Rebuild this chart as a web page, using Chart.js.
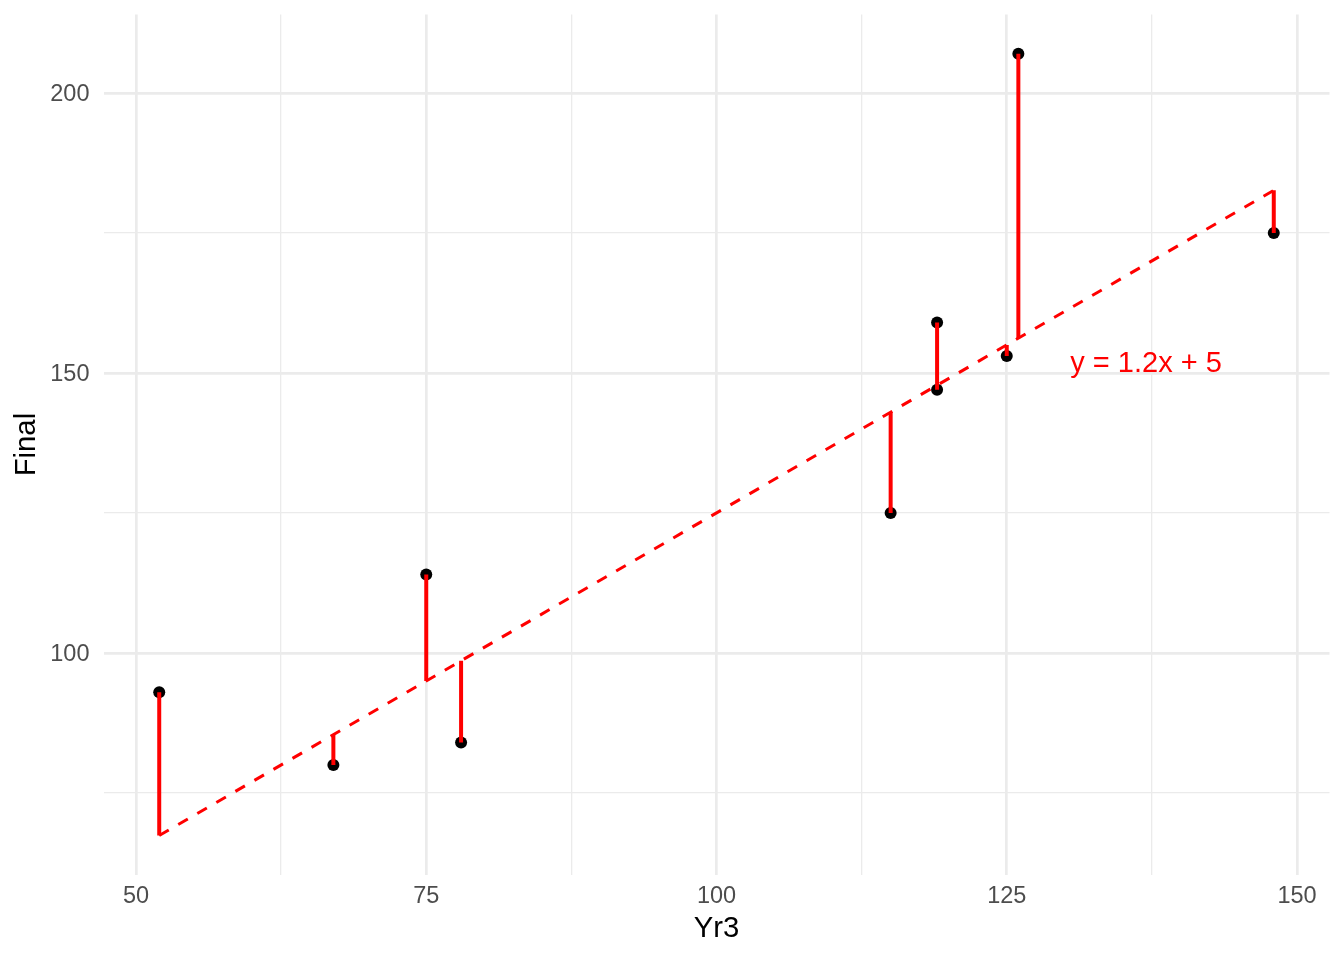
<!DOCTYPE html>
<html>
<head>
<meta charset="utf-8">
<script src="https://cdn.jsdelivr.net/npm/chart.js@4/dist/chart.umd.min.js"></script>
<style>
  html, body { margin: 0; padding: 0; background: #ffffff; }
  #wrap { width: 1344px; height: 960px; }
</style>
</head>
<body>
<div id="wrap"><canvas id="residualChart" width="1344" height="960"></canvas></div>
<script>
// data
const yr3    = [52, 67, 75, 78, 115, 119, 119, 125, 126, 148];
const final  = [93, 80, 114, 84, 125, 159, 147, 153, 207, 175];
// values on the line y = 1.2x + 5 at each Yr3
const fitted = [67.4, 85.4, 95, 98.6, 143, 147.8, 147.8, 155, 156.2, 182.6];

const xGrid = [50, 62.5, 75, 87.5, 100, 112.5, 125, 137.5, 150];
const yGrid = [75, 100, 125, 150, 175, 200];
const xTickLabels = [50, 75, 100, 125, 150];
const yTickLabels = [100, 150, 200];

const eqText = 'y = 1.2x + 5';
const eqAt = [137, 152];

const points = yr3.map((x, i) => ({x: x, y: final[i]}));
const fitLine = [
    {x: yr3[0], y: fitted[0]},
    {x: yr3[yr3.length - 1], y: fitted[fitted.length - 1]}
];
// each residual is point -> fitted value, broken by a null
const residuals = [];
yr3.forEach((x, i) => {
    residuals.push({x: x, y: final[i]});
    residuals.push({x: x, y: fitted[i]});
    residuals.push({x: x, y: null});
});

const FONT = '"Liberation Sans", Arimo, Helvetica, Arial, sans-serif';

const eqLabel = {
    id: 'eqLabel',
    afterDatasetsDraw(chart) {
        const {ctx, scales: {x, y}} = chart;
        ctx.save();
        ctx.fillStyle = '#FF0000';
        ctx.font = '29px ' + FONT;
        ctx.textAlign = 'center';
        ctx.textBaseline = 'alphabetic';
        // centre the cap height on the anchor, like ggplot does
        ctx.fillText(eqText, x.getPixelForValue(eqAt[0]), y.getPixelForValue(eqAt[1]) + 10.4);
        ctx.restore();
    }
};

function gridStyle(majors) {
    return {
        color: '#EBEBEB',
        lineWidth: (c) => majors.includes(c.tick.value) ? 2.7 : 1.3,
        drawTicks: false
    };
}

const ctx = document.getElementById('residualChart').getContext('2d');
const chart = new Chart(ctx, {
    type: 'scatter',
    data: {
        datasets: [
            {
                // residual segments, drawn on top
                data: residuals,
                showLine: true,
                spanGaps: false,
                borderColor: '#FF0000',
                borderWidth: 4,
                borderCapStyle: 'butt',
                pointRadius: 0,
                order: 0
            },
            {
                data: points,
                backgroundColor: '#000000',
                borderWidth: 0,
                pointRadius: 6,
                order: 1
            },
            {
                data: fitLine,
                showLine: true,
                borderColor: '#FF0000',
                borderWidth: 3,
                borderDash: [11, 11],
                borderCapStyle: 'butt',
                pointRadius: 0,
                order: 2
            }
        ]
    },
    options: {
        responsive: false,
        animation: false,
        layout: { padding: { top: 14.6, right: 14.5, left: 0, bottom: 0 } },
        plugins: {
            legend: { display: false },
            tooltip: { enabled: false }
        },
        scales: {
            x: {
                type: 'linear',
                min: 47.2,
                max: 152.8,
                afterBuildTicks: (s) => { s.ticks = xGrid.map(v => ({value: v})); },
                afterFit: (s) => {
                    s.height = 85.4;
                    s.paddingLeft = 0;
                    s.paddingRight = 0;
                },
                grid: gridStyle(xTickLabels),
                border: { display: false },
                ticks: {
                    autoSkip: false,
                    maxRotation: 0,
                    padding: 8,
                    color: '#4D4D4D',
                    font: { family: FONT, size: 23.5 },
                    callback: (v) => xTickLabels.includes(v) ? String(v) : ''
                },
                title: {
                    display: true,
                    text: 'Yr3',
                    color: '#000000',
                    font: { family: FONT, size: 29.3 },
                    padding: { top: 0, bottom: 13.6 }
                }
            },
            y: {
                type: 'linear',
                min: 60.42,
                max: 213.98,
                afterBuildTicks: (s) => { s.ticks = yGrid.map(v => ({value: v})); },
                afterFit: (s) => {
                    s.width = 103.5;
                    s.paddingTop = 0;
                    s.paddingBottom = 0;
                },
                grid: gridStyle(yTickLabels),
                border: { display: false },
                ticks: {
                    autoSkip: false,
                    padding: 14,
                    labelOffset: 2,
                    color: '#4D4D4D',
                    font: { family: FONT, size: 23.5 },
                    callback: (v) => yTickLabels.includes(v) ? String(v) : ''
                },
                title: {
                    display: true,
                    text: 'Final',
                    color: '#000000',
                    font: { family: FONT, size: 29.3 },
                    padding: { top: 9.6, bottom: 0 }
                }
            }
        }
    },
    plugins: [eqLabel]
});
</script>
</body>
</html>
